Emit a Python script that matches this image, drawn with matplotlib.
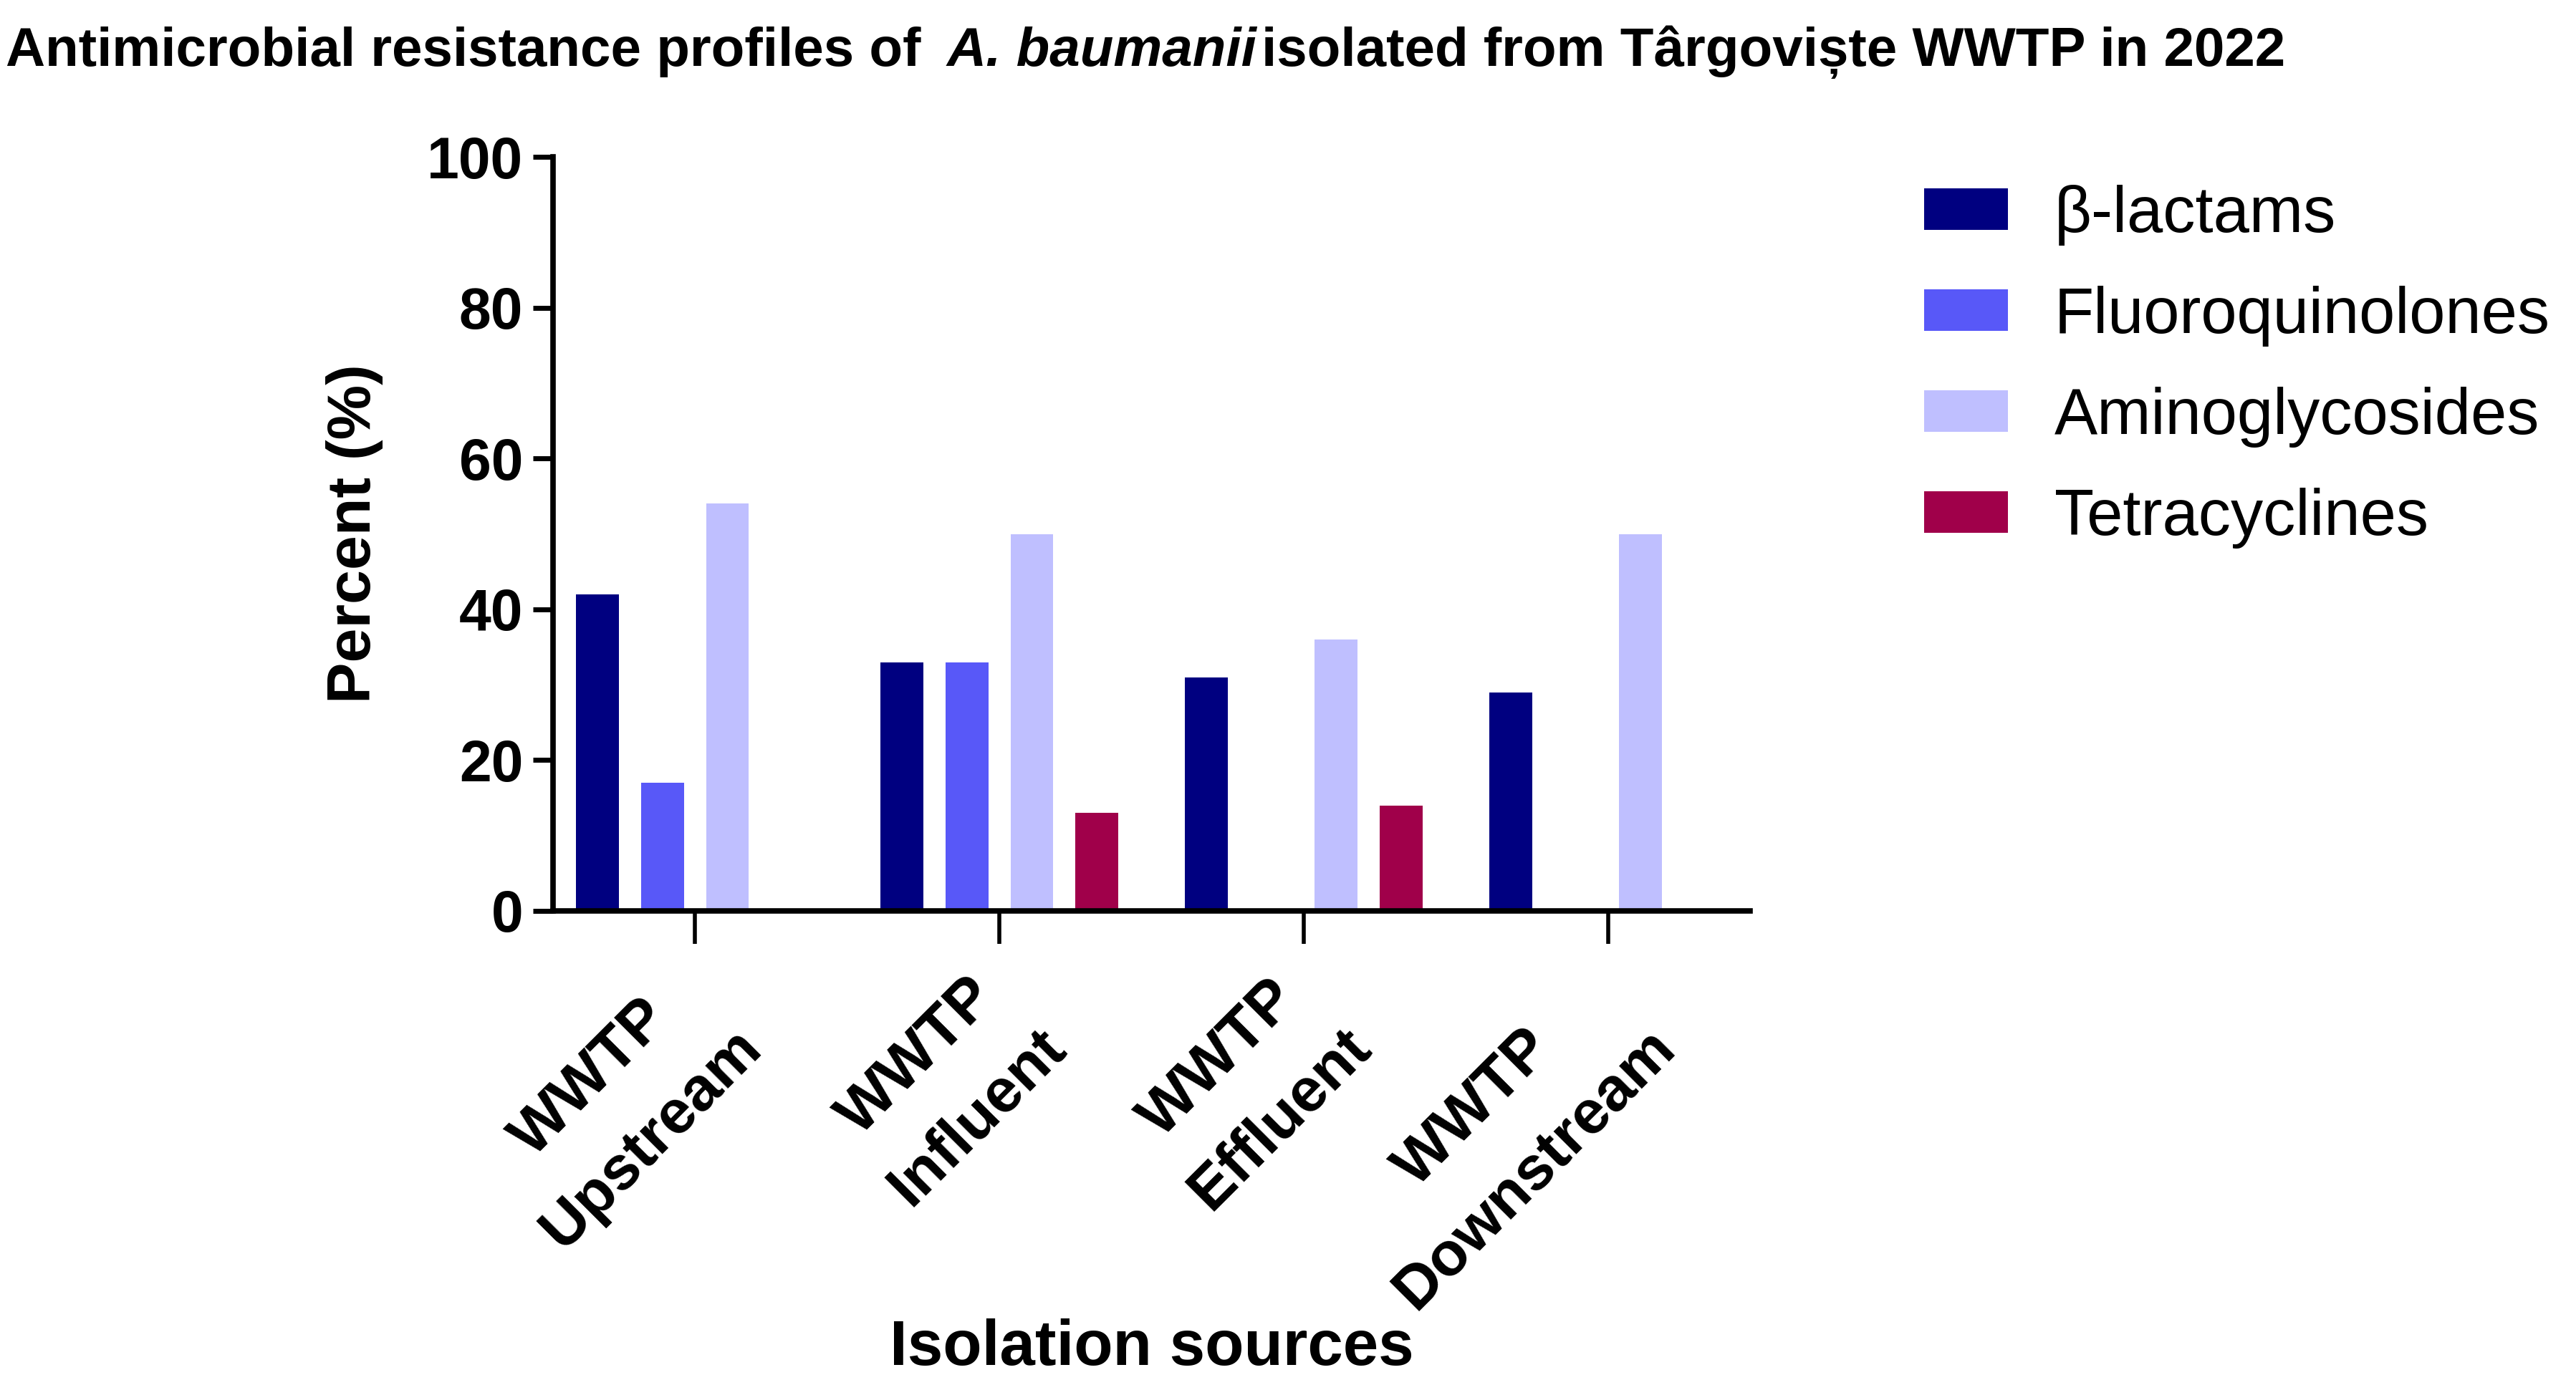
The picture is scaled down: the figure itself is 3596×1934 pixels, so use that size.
import matplotlib
matplotlib.use("Agg")
import matplotlib.pyplot as plt
import matplotlib.transforms as mtransforms
import numpy as np

plt.rcParams['font.family'] = ['Liberation Sans', 'DejaVu Sans']

# data
sources = ["WWTP\nUpstream", "WWTP\nInfluent", "WWTP\nEffluent", "WWTP\nDownstream"]
classes = ["β-lactams", "Fluoroquinolones", "Aminoglycosides", "Tetracyclines"]
beta_lactams = [42, 33, 31, 29]
fluoroquinolones = [17, 33, 0, 0]
aminoglycosides = [54, 50, 36, 50]
tetracyclines = [0, 13, 14, 0]
colors = ["#000080", "#5858F8", "#BFBFFF", "#A0004A"]

W, H = 3596, 1934
fig = plt.figure(figsize=(W / 100, H / 100), dpi=100)
ax = fig.add_axes([772 / W, 1 - 1272 / H, (2443 - 772) / W, (1272 - 219) / H])

x = np.arange(len(sources))
step = 0.214
width = 0.141
series = [beta_lactams, fluoroquinolones, aminoglycosides, tetracyclines]
for i, (vals, name, col) in enumerate(zip(series, classes, colors)):
    ax.bar(x + (i - 1.5) * step, vals, width, color=col, label=name, linewidth=0)

ax.set_xlim(-0.466, 3.466)
ax.set_ylim(0, 100)
ax.set_yticks([0, 20, 40, 60, 80, 100])
ax.set_xticks(x)
ax.set_xticklabels(sources, rotation=45, ha="right", va="top",
                   rotation_mode="anchor", multialignment="center",
                   linespacing=1.65)

for side in ["top", "right"]:
    ax.spines[side].set_visible(False)
for side in ["left", "bottom"]:
    ax.spines[side].set_linewidth(5.5)

ax.tick_params(axis="y", length=20, width=5, labelsize=58, pad=10)
ax.tick_params(axis="x", length=33, width=4, labelsize=62, pad=8)
for lab in ax.get_yticklabels() + ax.get_xticklabels():
    lab.set_fontweight("bold")

# nudge the rotated source labels a little left/down
offset = mtransforms.ScaledTranslation(-0.33, -0.08, fig.dpi_scale_trans)
for lab in ax.get_xticklabels():
    lab.set_transform(lab.get_transform() + offset)

ax.set_ylabel("Percent (%)", fontsize=62, fontweight="bold")
ax.set_xlabel("Isolation sources", fontsize=64, fontweight="bold")
ax.xaxis.set_label_coords(0.5, -0.54)
ax.yaxis.set_label_coords(-0.142, 0.5)

leg = fig.legend(loc="upper left", bbox_to_anchor=(2650 / W, 1 - 222 / H),
                 frameon=False, fontsize=65, handlelength=1.29, handleheight=0.61,
                 handletextpad=0.72, labelspacing=0.62, borderaxespad=0)

# title with italic species name
renderer = fig.canvas.get_renderer()
ty = 1 - 92 / H
fs = 55
t1 = fig.text(8 / W, ty, "Antimicrobial resistance profiles of ", fontsize=fs,
              fontweight="bold", va="baseline")
bb = t1.get_window_extent(renderer)
t2 = fig.text(bb.x1 / W + 0.004, ty, "A. baumanii", fontsize=fs,
              fontweight="bold", style="italic", va="baseline")
bb = t2.get_window_extent(renderer)
t3 = fig.text(bb.x1 / W + 0.002, ty, "isolated from Târgoviște WWTP in 2022",
              fontsize=fs, fontweight="bold", va="baseline")

fig.savefig("out.png", dpi=100)
